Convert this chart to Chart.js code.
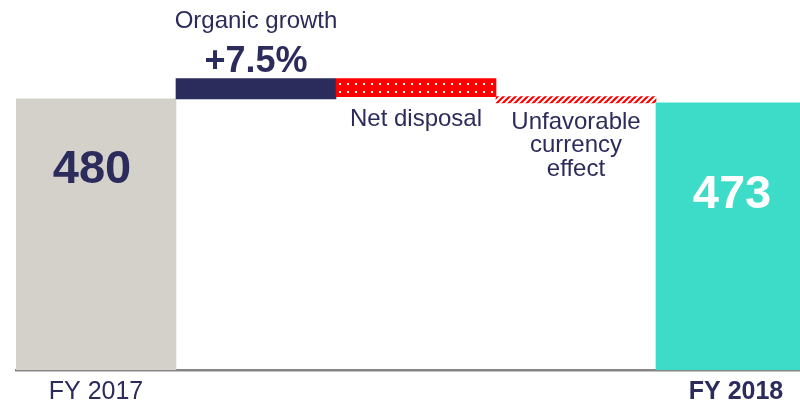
<!DOCTYPE html>
<html>
<head>
<meta charset="utf-8">
<script src="https://cdn.jsdelivr.net/npm/chart.js@4.4.1/dist/chart.umd.min.js"></script>
<style>
  html, body { margin: 0; padding: 0; background: #fff; overflow: hidden; }
  #wrap { width: 800px; height: 402px; overflow: hidden; position: relative; }
  #box { width: 816px; height: 402px; }
</style>
</head>
<body>
<div id="wrap"><div id="box"><canvas id="chart_bridge"></canvas></div></div>
<script>
// データ
const categories = ['FY 2017', 'Organic growth', 'Net disposal', 'Unfavorable currency effect', 'FY 2018'];
const changes = [480, 36, -32, -11, 473];      // 先頭と末尾は合計値
const tickLabels = ['FY 2017', '', '', '', 'FY 2018'];
const valueLabels = ['480', '+7.5%', '', '', '473'];

const NAVY = '#2b2b5c';
const RED = '#ff0000';

// 赤地に白ドット
function dotPattern() {
    const c = document.createElement('canvas');
    c.width = 8; c.height = 8;
    const g = c.getContext('2d');
    g.fillStyle = RED;
    g.fillRect(0, 0, 8, 8);
    g.fillStyle = '#ffffff';
    g.fillRect(3, 3, 2, 2);
    return g.createPattern(c, 'repeat');
}

// 白地に赤い斜線
function hatchPattern() {
    const c = document.createElement('canvas');
    c.width = 6; c.height = 6;
    const g = c.getContext('2d');
    g.fillStyle = '#ffffff';
    g.fillRect(0, 0, 6, 6);
    g.strokeStyle = RED;
    g.lineWidth = 2.2;
    g.beginPath();
    g.moveTo(-1, 7); g.lineTo(7, -1);
    g.moveTo(-4, 4); g.lineTo(4, -4);
    g.moveTo(2, 10); g.lineTo(10, 2);
    g.stroke();
    return g.createPattern(c, 'repeat');
}

// 浮動バー（ウォーターフォール）
const ranges = [];
let total = 0;
changes.forEach((v, i) => {
    if (i === 0 || i === changes.length - 1) {
        ranges.push([0, v]);
        total = v;
    } else {
        ranges.push([total, total + v]);
        total += v;
    }
});

const colors = ['#d4d1cb', NAVY, dotPattern(), hatchPattern(), '#3ddcc8'];

// 注釈テキスト
const labelPlugin = {
    id: 'labels',
    afterDatasetsDraw(chart) {
        const ctx = chart.ctx;
        const bars = chart.getDatasetMeta(0).data;
        const box = i => {
            const b = bars[i];
            return { x: b.x, top: Math.min(b.y, b.base), bottom: Math.max(b.y, b.base) };
        };
        ctx.save();
        ctx.textAlign = 'center';
        ctx.textBaseline = 'alphabetic';

        let b = box(0);
        ctx.fillStyle = NAVY;
        ctx.font = 'bold 47px "Liberation Sans", Arial, sans-serif';
        ctx.fillText(valueLabels[0], b.x - 4, b.top + 84);

        b = box(1);
        ctx.font = '24px "Liberation Sans", Arial, sans-serif';
        ctx.fillText('Organic growth', b.x, b.top - 51);
        ctx.font = 'bold 36px "Liberation Sans", Arial, sans-serif';
        ctx.fillText(valueLabels[1], b.x, b.top - 7);

        b = box(2);
        ctx.font = '24px "Liberation Sans", Arial, sans-serif';
        ctx.fillText('Net disposal', b.x, b.bottom + 29);

        b = box(3);
        ctx.fillText('Unfavorable', b.x, b.bottom + 26);
        ctx.fillText('currency', b.x, b.bottom + 49);
        ctx.fillText('effect', b.x, b.bottom + 73);

        b = box(4);
        ctx.fillStyle = '#ffffff';
        ctx.font = 'bold 47px "Liberation Sans", Arial, sans-serif';
        ctx.fillText(valueLabels[4], b.x - 4, b.top + 105);
        ctx.restore();
    }
};

const chartArea = document.getElementById('chart_bridge');
const myChart = new Chart(chartArea, {
    type: 'bar',
    data: {
        labels: categories,
        datasets: [{
            data: ranges,
            backgroundColor: colors,
            borderWidth: 0,
            barPercentage: 1,
            categoryPercentage: 1
        }]
    },
    options: {
        responsive: true,
        maintainAspectRatio: false,
        animation: false,
        layout: { padding: { left: 16, right: 0, top: 0, bottom: 0 } },
        plugins: { legend: { display: false }, tooltip: { enabled: false } },
        scales: {
            x: {
                grid: { display: false, drawTicks: false },
                border: { display: true, color: '#858585', width: 2.5 },
                afterFit: scale => { scale.height = 32; },
                ticks: {
                    padding: 7,
                    color: NAVY,
                    maxRotation: 0,
                    autoSkip: false,
                    callback: (v, i) => tickLabels[i],
                    font: ctx => ctx.index === 4
                        ? { family: '"Liberation Sans", Arial, sans-serif', size: 25, weight: 'bold' }
                        : { family: '"Liberation Sans", Arial, sans-serif', size: 25 }
                }
            },
            y: {
                display: false,
                min: 0,
                max: 655
            }
        }
    },
    plugins: [labelPlugin]
});
</script>
</body>
</html>
